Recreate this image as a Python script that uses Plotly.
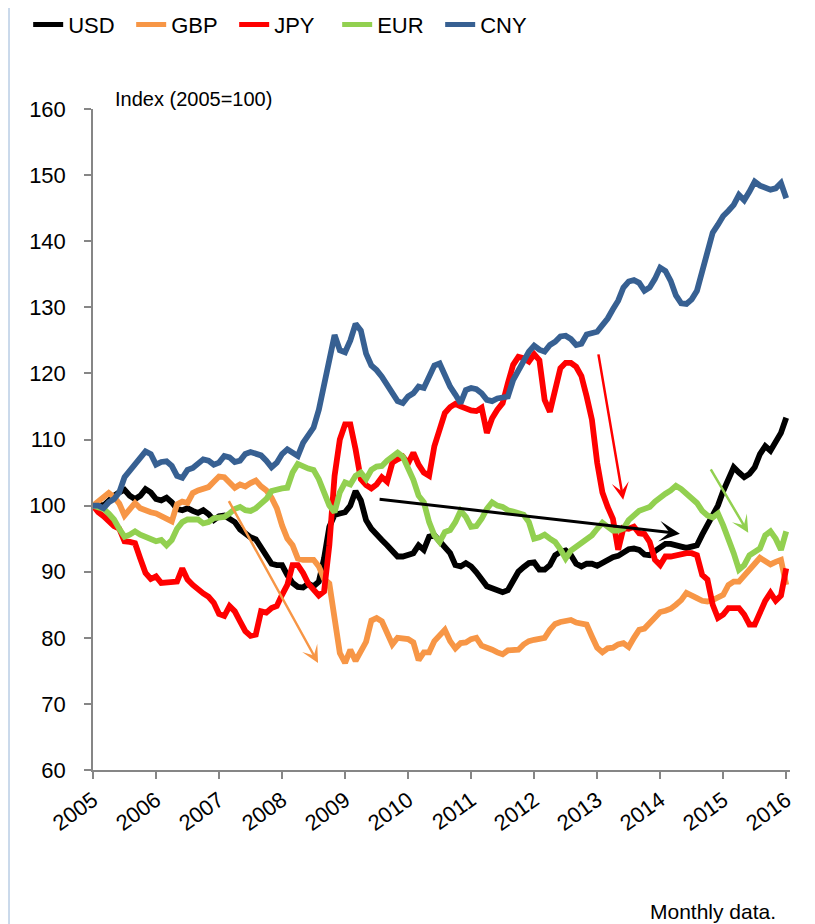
import plotly.graph_objects as go

start_year = 2005
series_names = ["USD", "GBP", "JPY", "EUR", "CNY"]
series_colors = ["#000000", "#F79646", "#FF0000", "#92D050", "#376092"]

usd = [100.0, 100.2, 100.0, 100.8, 101.5, 102.0, 102.4, 101.5, 101.0, 101.5, 102.5, 102.0,
       101.0, 100.8, 101.2, 100.5, 99.5, 99.3, 99.6, 99.2, 98.9, 99.3, 98.7, 97.8,
       98.4, 98.5, 98.0, 97.5, 96.4, 95.7, 95.2, 94.9, 93.6, 92.6, 91.2, 91.0,
       91.0, 89.5, 88.3, 87.7, 87.6, 88.2, 87.8, 88.5, 92.0, 96.8, 98.6, 98.8,
       99.0, 100.0, 102.2, 100.8, 97.8, 96.5, 95.5, 94.8, 94.0, 93.2, 92.3, 92.3,
       92.6, 92.8, 94.0, 93.3, 95.3, 95.5, 94.6, 93.8, 92.8, 91.0, 90.8, 91.3,
       90.8, 89.9, 88.8, 87.8, 87.5, 87.3, 86.9, 87.2, 88.8, 90.0, 90.7, 91.3,
       91.4, 90.3, 90.3, 91.0, 92.5, 93.0, 93.2, 92.5, 91.2, 90.8, 91.2, 91.2,
       90.9, 91.4, 91.8, 92.2, 92.4, 92.8, 93.4, 93.5, 93.3, 92.6, 92.5, 93.1,
       93.6, 94.2, 94.2, 94.1, 93.8, 93.6, 93.8, 94.0, 95.6, 97.0, 98.3, 100.0,
       102.2, 104.2, 105.8, 105.0, 104.3, 104.8, 105.8, 107.8, 109.0, 108.3, 109.8, 111.0,
       113.3]

gbp = [100.0, 100.6, 101.2, 101.9, 101.3, 100.3, 98.5, 99.6, 100.4, 99.6, 99.2, 99.0,
       98.8, 98.4, 98.0, 97.6, 100.2, 100.6, 100.4, 101.9, 102.3, 102.5, 102.8, 103.6,
       104.4, 104.3, 103.5, 102.7, 103.2, 102.9, 103.4, 103.8, 102.9, 102.3, 101.2, 99.6,
       97.0, 95.0, 94.0, 92.0, 91.8, 91.8, 91.8, 90.8, 88.9, 88.2, 82.7, 77.7,
       76.2, 78.2, 76.5, 78.0, 79.4, 82.6, 83.0, 82.5, 80.5, 79.0, 80.0, 79.8,
       79.8, 79.3, 76.6, 77.8, 77.8, 79.5, 80.3, 81.2, 79.5, 78.4, 79.2, 79.3,
       79.8, 80.0, 78.8, 78.6, 78.2, 77.8, 77.5, 78.1, 78.2, 78.2, 79.0, 79.5,
       79.7, 79.8, 80.0, 81.2, 82.1, 82.4, 82.5, 82.7, 82.3, 82.1, 82.0, 80.2,
       78.5, 77.8, 78.4, 78.5, 79.0, 79.2, 78.6, 80.0, 81.2, 81.4, 82.2, 83.0,
       83.9, 84.1, 84.4, 85.0, 85.7, 86.8, 86.5, 86.0, 85.6, 85.5, 85.7, 86.0,
       86.5, 88.0, 88.5, 88.5, 89.3, 90.3, 91.2, 92.1, 91.6, 91.1, 91.5, 91.8,
       88.0]

jpy = [100.0, 99.0, 98.4, 97.5, 96.9, 96.5, 94.6, 94.5, 94.3, 92.0, 89.8, 88.9,
       89.3, 88.3, 88.4, 88.3, 88.5, 90.5, 88.8, 88.0, 87.3, 86.7, 86.2, 85.3,
       83.6, 83.3, 84.8, 84.0, 82.5, 81.0, 80.3, 80.5, 84.0, 83.8, 84.5, 84.8,
       86.5, 88.0, 91.0, 91.0, 89.8, 88.2, 87.3, 86.4, 87.0, 94.0, 104.5, 110.0,
       112.3, 112.3, 108.5, 104.0, 103.1, 102.6, 103.2, 104.3, 103.6, 106.5, 107.0, 107.4,
       106.4, 108.0, 106.2, 105.0, 104.5, 109.0, 111.5, 114.0, 114.9, 115.4, 115.0, 114.6,
       114.4, 114.3, 114.8, 111.0, 113.2, 114.5, 115.5, 118.5, 121.3, 122.5, 122.3, 121.8,
       122.9, 122.0, 116.0, 114.2, 118.0, 120.8, 121.6, 121.6, 121.0, 119.6, 116.5, 113.0,
       106.5, 102.0, 99.8, 98.0, 93.3, 96.6, 96.5, 96.8, 95.8, 95.7, 94.5, 91.8,
       91.0, 92.3, 92.3, 92.5, 92.8, 92.8, 92.8, 92.5, 89.5, 88.8, 85.0, 83.0,
       83.5, 84.5, 84.5, 84.5, 83.5, 82.0, 82.0, 83.8, 85.6, 86.8, 85.6, 86.4,
       90.5]

eur = [100.0, 99.8, 99.5, 98.8, 97.9, 96.5, 95.3, 95.6, 96.1, 95.6, 95.3, 94.8,
       94.6, 94.8, 94.0, 94.8, 96.5, 97.5, 97.9, 97.9, 97.9, 97.3, 97.5, 98.1,
       98.1, 98.3, 98.8, 99.5, 99.8, 99.3, 99.2, 99.6, 100.3, 101.0, 102.2, 102.5,
       102.6, 102.7, 105.0, 106.3, 105.9, 105.6, 105.4, 104.0, 102.0, 100.0, 99.0, 102.0,
       103.5, 103.2, 104.5, 105.0, 104.0, 105.4, 105.9, 106.0, 106.8, 107.5, 108.0, 107.4,
       105.8, 103.9, 101.5, 100.5, 97.5, 95.5, 94.5, 96.0, 96.3, 97.5, 99.2, 98.3,
       96.8, 96.9, 98.0, 99.5, 100.5, 100.0, 99.8, 99.3, 99.1, 98.8, 98.6, 97.5,
       95.0, 95.2, 95.6, 95.0, 94.5, 93.4, 92.0, 93.2, 93.8, 94.3, 94.8, 95.5,
       96.5, 97.4, 96.8, 96.2, 96.2, 96.5, 97.8, 98.6, 99.2, 99.5, 99.8, 100.6,
       101.3, 101.8, 102.3, 103.0, 102.5, 101.8, 101.2, 100.4, 99.2, 98.5, 98.2, 98.8,
       97.0, 95.0, 92.8, 90.3, 91.0, 92.5, 93.0, 93.5, 95.5, 96.1, 95.0, 93.3,
       96.1]

cny = [100.0, 100.0, 99.6, 100.5, 101.0, 102.0, 104.3, 105.3, 106.0, 107.0, 108.2, 107.8,
       106.2, 106.6, 106.7, 106.0, 104.5, 104.2, 105.4, 105.7, 106.3, 107.0, 106.8, 106.2,
       106.5, 107.5, 107.3, 106.6, 106.8, 107.8, 108.1, 107.8, 107.6, 106.8, 105.8, 106.5,
       107.8, 108.5, 108.0, 107.5, 109.5, 110.8, 111.8, 114.5, 118.0, 122.0, 125.8, 123.5,
       123.2, 125.0, 127.5, 126.5, 123.0, 121.2, 120.5, 119.5, 118.3, 116.8, 115.8, 115.5,
       116.5, 117.0, 118.0, 117.8, 119.5, 121.2, 121.5, 119.5, 118.0, 116.8, 115.5, 117.5,
       117.8, 117.6, 117.0, 116.0, 115.8, 116.2, 116.3, 116.5, 119.0, 120.5, 121.8, 123.3,
       124.2, 123.6, 123.3, 124.3, 124.8, 125.6, 125.7, 125.2, 124.3, 124.5, 125.9, 126.1,
       126.3, 127.3, 128.3, 129.7, 131.0, 133.0, 133.9, 134.1, 133.7, 132.5, 133.0, 134.3,
       136.0, 135.5, 134.0, 131.8, 130.6, 130.5, 131.2, 132.5, 135.5, 138.5, 141.3, 142.5,
       143.8, 144.6, 145.5, 147.0, 146.2, 147.5, 149.0, 148.4, 148.2, 147.8, 148.0, 148.8,
       146.5]

year_ticks = list(range(2005, 2017))
y_ticks = [60, 70, 80, 90, 100, 110, 120, 130, 140, 150, 160]

# trend arrows: (tail_x, tail_y, head_x, head_y, colour, width)
arrows = [
    (2007.143, 100.9, 2008.571, 76.2, "#F79646", 2.5),
    (2009.524, 101.0, 2014.313, 95.75, "#000000", 3),
    (2013.016, 123.1, 2013.413, 100.9, "#FF0000", 2.5),
    (2014.789, 105.7, 2015.397, 95.9, "#92D050", 2.5),
]

months = [start_year + i / 12 for i in range(len(usd))]
values = [usd, gbp, jpy, eur, cny]

fig = go.Figure()
for name, col, vals in zip(series_names, series_colors, values):
    fig.add_trace(go.Scatter(
        x=months, y=vals, name=name, mode="lines",
        line=dict(color=col, width=5.8),
        hoverinfo="skip",
    ))

annotations = []
for tx, ty, hx, hy, col, w in arrows:
    annotations.append(dict(
        x=hx, y=hy, ax=tx, ay=ty, xref="x", yref="y", axref="x", ayref="y",
        text="", showarrow=True, arrowhead=3, arrowsize=1.15, arrowwidth=w,
        arrowcolor=col, standoff=0,
    ))

annotations.append(dict(
    text="Index (2005=100)", xref="paper", yref="paper", x=0.028, y=1.0156,
    xanchor="left", yanchor="middle", showarrow=False,
    font=dict(family="Liberation Sans, Arial, sans-serif", size=20, color="#000000"),
))
annotations.append(dict(
    text="Monthly data.", xref="paper", yref="paper", x=0.9828, y=-0.2144,
    xanchor="right", yanchor="middle", showarrow=False,
    font=dict(family="Liberation Sans, Arial, sans-serif", size=21, color="#000000"),
))

fig.update_layout(
    width=807, height=916,
    margin=dict(l=85, r=25, t=101, b=154, pad=0, autoexpand=False),
    paper_bgcolor="white", plot_bgcolor="white",
    showlegend=True,
    legend=dict(
        orientation="h", x=-0.093, xanchor="left", y=1.1275, yanchor="middle",
        entrywidth=58, entrywidthmode="pixels",
        font=dict(family="Liberation Sans, Arial, sans-serif",
                  size=22, color="#000000"),
        bgcolor="rgba(0,0,0,0)", itemsizing="constant", traceorder="normal",
    ),
    annotations=annotations,
    shapes=[dict(type="line", xref="paper", yref="paper",
                 x0=-0.1205, x1=-0.1205, y0=-0.25, y1=1.2,
                 line=dict(color="#B9CDE5", width=1.5))],
    xaxis=dict(
        range=[2005, 2016.06], tickmode="array", tickvals=year_ticks,
        ticktext=[str(y) for y in year_ticks], tickangle=-36,
        showgrid=False, zeroline=False, showline=True, linecolor="#868686", linewidth=1.5,
        ticks="outside", ticklen=7, tickwidth=1.5, tickcolor="#868686",
        tickfont=dict(family="Liberation Sans, Arial, sans-serif", size=22, color="#000000"),
    ),
    yaxis=dict(
        range=[60, 160], tickmode="array", tickvals=y_ticks,
        showgrid=False, zeroline=False, showline=True, linecolor="#868686", linewidth=1.5,
        ticks="outside", ticklen=7, tickwidth=1.5, tickcolor="#868686",
        ticklabelstandoff=14,
        tickfont=dict(family="Liberation Sans, Arial, sans-serif", size=22, color="#000000"),
    ),
)

fig.write_html("out.html")
